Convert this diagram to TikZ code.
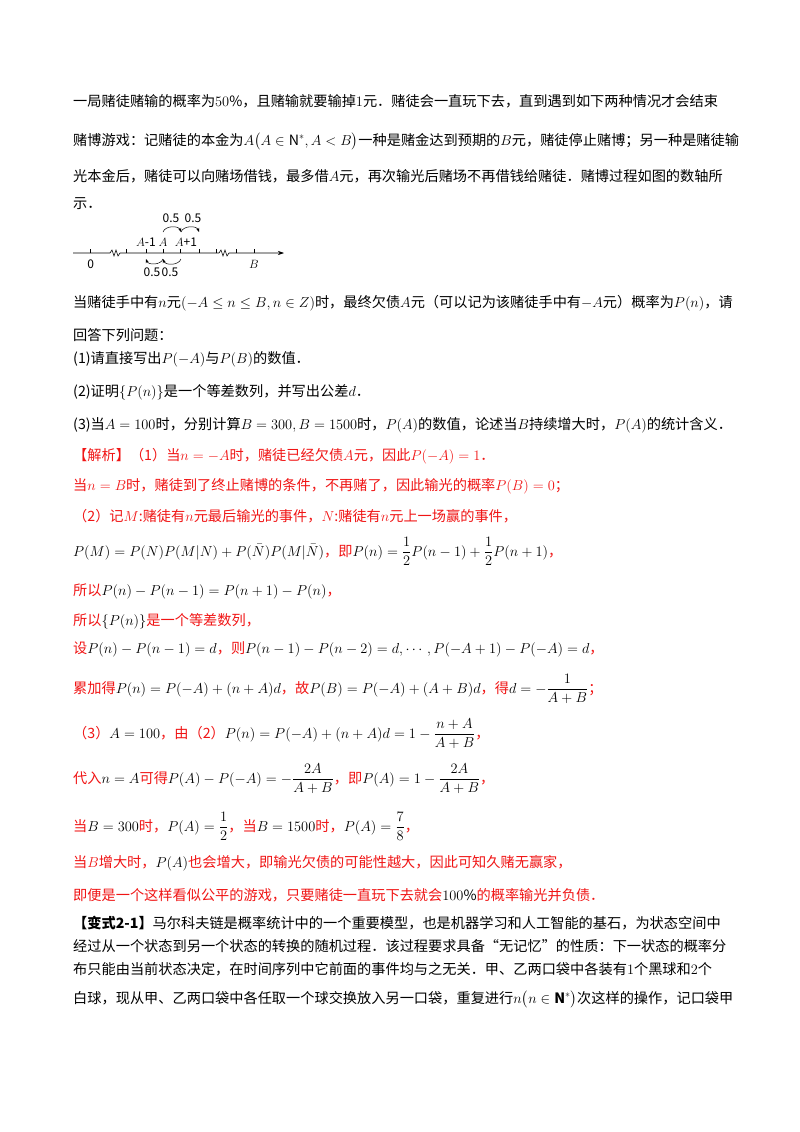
\documentclass[tikz,border=0pt]{standalone}
\usepackage{amsmath,amssymb}
\usepackage{fontspec}
\setmainfont{Noto Sans CJK SC}
\usetikzlibrary{arrows.meta}
\definecolor{rd}{RGB}{240,20,20}
\begin{document}
\begin{tikzpicture}[x=1pt,y=-1pt,
  t/.style={anchor=base west,inner sep=0pt,font=\fontsize{14.2}{16}\selectfont},
  r/.style={t,text=rd},
  s/.style={font=\fontsize{12}{13}\selectfont\rmfamily,inner sep=0pt},
  arc/.style={-{Stealth[length=4pt,width=3pt]},line width=0.5pt}]
\useasboundingbox (0,0) rectangle (800,1132);
\node[t] (l1) at (73,106) {一局赌徒赌输的概率为$50\%$，且赌输就要输掉$1$元．赌徒会一直玩下去，直到遇到如下两种情况才会结束};
\node[t] (l2) at (73,145) {赌博游戏：记赌徒的本金为$A\big(A\in\mathrm{N}^*,A<B\big)$一种是赌金达到预期的$B$元，赌徒停止赌博；另一种是赌徒输};
\node[t] (l3) at (73,181) {光本金后，赌徒可以向赌场借钱，最多借$A$元，再次输光后赌场不再借钱给赌徒．赌博过程如图的数轴所};
\node[t] (l4) at (73,208) {示．};
% number line
\coordinate (s) at (73,253); \coordinate (e) at (284,253);
\draw[-{Stealth[length=6pt,width=4pt]},line width=0.6pt] (s) -- (110,253) -- (112,250) -- (114,256) -- (116,250) -- (118,256) -- (120,253) -- (219,253) -- (221,250) -- (223,256) -- (225,250) -- (227,256) -- (229,253) -- (e);
\foreach \x in {90.7,126.7,146,163,180.7,199,216.7,236,254}{\draw[line width=0.5pt] (\x,253) -- (\x,249);}
\node[s] (z) at (90.7,264) {0};
\node[s] (b) at (254,264) {$B$};
\node[s] (am) at (146,242) {$A$-1};
\node[s] (a) at (163,242) {$A$};
\node[s] (ap) at (186,242) {$A$+1};
\coordinate (u1) at (163,232); \coordinate (u2) at (181,232); \coordinate (u3) at (199,232);
\draw[arc] (u1) to[out=70,in=110] (u2);
\draw[arc] (u2) to[out=70,in=110] (u3);
\node[s] (h1) at (171,218) {0.5};
\node[s] (h2) at (193,218) {0.5};
\coordinate (d1) at (146,259); \coordinate (d2) at (163,259); \coordinate (d3) at (181,259);
\draw[arc] (d2) to[out=-110,in=-70] (d1);
\draw[arc] (d3) to[out=-110,in=-70] (d2);
\node[s] (g1) at (152,272) {0.5};
\node[s] (g2) at (170,272) {0.5};
% question
\node[t] (q1) at (73,307) {当赌徒手中有$n$元$(-A\le n\le B,n\in Z)$时，最终欠债$A$元（可以记为该赌徒手中有$-A$元）概率为$P(n)$，请};
\node[t] (q2) at (73,340) {回答下列问题：};
\node[t] (q3) at (73,363) {(1)请直接写出$P(-A)$与$P(B)$的数值．};
\node[t] (q4) at (73,396) {(2)证明$\{P(n)\}$是一个等差数列，并写出公差$d$．};
\node[t] (q5) at (73,429) {(3)当$A=100$时，分别计算$B=300,B=1500$时，$P(A)$的数值，论述当$B$持续增大时，$P(A)$的统计含义．};
% solution
\node[r] (s1) at (73,460) {【解析】（1）当$n=-A$时，赌徒已经欠债$A$元，因此$P(-A)=1$．};
\node[r] (s2) at (73,490) {当$n=B$时，赌徒到了终止赌博的条件，不再赌了，因此输光的概率$P(B)=0$；};
\node[r] (s3) at (73,521) {（2）记$M$:赌徒有$n$元最后输光的事件，$N$:赌徒有$n$元上一场赢的事件，};
\node[r] (s4) at (73,556) {\textcolor{black}{$P(M)=P(N)P(M|N)+P(\bar N)P(M|\bar N)$}，即\textcolor{black}{$P(n)=\dfrac12P(n-1)+\dfrac12P(n+1)$}，};
\node[r] (s5) at (73,595) {所以\textcolor{black}{$P(n)-P(n-1)=P(n+1)-P(n)$}，};
\node[r] (s6) at (73,625) {所以\textcolor{black}{$\{P(n)\}$}是一个等差数列，};
\node[r] (s7) at (73,653) {设\textcolor{black}{$P(n)-P(n-1)=d$}，则\textcolor{black}{$P(n-1)-P(n-2)=d,\cdots,P(-A+1)-P(-A)=d$}，};
\node[r] (s8) at (73,693) {累加得\textcolor{black}{$P(n)=P(-A)+(n+A)d$}，故\textcolor{black}{$P(B)=P(-A)+(A+B)d$}，得\textcolor{black}{$d=-\dfrac{1}{A+B}$}；};
\node[r] (s9) at (73,738) {（3）\textcolor{black}{$A=100$}，由（2）\textcolor{black}{$P(n)=P(-A)+(n+A)d=1-\dfrac{n+A}{A+B}$}，};
\node[r] (s10) at (73,783) {代入\textcolor{black}{$n=A$}可得\textcolor{black}{$P(A)-P(-A)=-\dfrac{2A}{A+B}$}，即\textcolor{black}{$P(A)=1-\dfrac{2A}{A+B}$}，};
\node[r] (s11) at (73,831) {当\textcolor{black}{$B=300$}时，\textcolor{black}{$P(A)=\dfrac12$}，当\textcolor{black}{$B=1500$}时，\textcolor{black}{$P(A)=\dfrac78$}，};
\node[r] (s12) at (73,867) {当$B$增大时，\textcolor{black}{$P(A)$}也会增大，即输光欠债的可能性越大，因此可知久赌无赢家，};
\node[r] (s13) at (73,900) {即便是一个这样看似公平的游戏，只要赌徒一直玩下去就会\textcolor{black}{$100\%$}的概率输光并负债．};
\node[t] (v1) at (73,928) {\textbf{【变式2-1】}马尔科夫链是概率统计中的一个重要模型，也是机器学习和人工智能的基石，为状态空间中};
\node[t] (v2) at (73,951) {经过从一个状态到另一个状态的转换的随机过程．该过程要求具备“无记忆”的性质：下一状态的概率分};
\node[t] (v3) at (73,974) {布只能由当前状态决定，在时间序列中它前面的事件均与之无关．甲、乙两口袋中各装有$1$个黑球和$2$个};
\node[t] (v4) at (73,1003) {白球，现从甲、乙两口袋中各任取一个球交换放入另一口袋，重复进行$n\big(n\in\mathbf{N}^*\big)$次这样的操作，记口袋甲};
\end{tikzpicture}
\end{document}
